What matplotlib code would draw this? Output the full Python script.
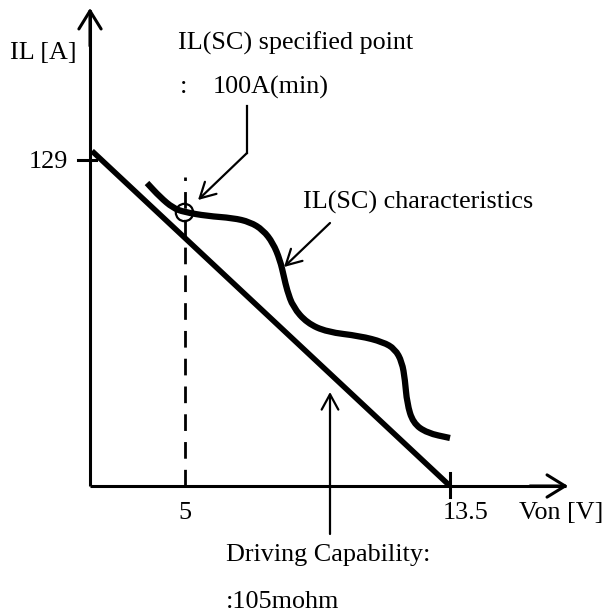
import matplotlib
matplotlib.use("Agg")
import matplotlib.pyplot as plt
from matplotlib.path import Path
from matplotlib.patches import PathPatch

plt.rcParams['font.family'] = ['Liberation Serif', 'DejaVu Serif']

# diagram units: origin at the axis crossing, schematic (not to scale)
# IL(SC) characteristic curve
curve_x = [57, 70, 83, 94, 117, 143, 160, 173, 183, 190, 194, 197, 203, 217,
           237, 270, 293, 305, 312, 315, 317, 323, 337, 360]
curve_y = [303, 289, 278, 274, 270, 268, 264, 256, 243, 226, 209, 196, 179, 163,
           154, 150, 144, 137, 124, 106, 83, 63, 53, 48]

# driving capability line (129 A at 0 V -> 0 A at 13.5 V)
drive_x = [2, 360]
drive_y = [335, 0]

# specified point
spec_x = 94
spec_y = 274

x_tick_pos = [95, 360]
x_tick_labels = ['5', '13.5']
y_tick_pos = [326]
y_tick_labels = ['129']

fig = plt.figure(figsize=(6.09, 6.15), dpi=100)
ax = fig.add_axes([0, 0, 1, 1])
ax.set_xlim(-90, 519)
ax.set_ylim(-129, 486)

# axes with open arrow heads
ax.plot([0, 476], [0, 0], color='black', lw=2.2, solid_capstyle='butt')
ax.plot([0, 0], [0, 476], color='black', lw=2.2, solid_capstyle='butt')
head = dict(arrowstyle='->,head_length=0.65,head_width=0.4', lw=2.2,
            color='black', mutation_scale=20, shrinkA=0, shrinkB=0)
ax.annotate('', xy=(478, 0), xytext=(440, 0), arrowprops=head)
ax.annotate('', xy=(0, 478), xytext=(0, 440), arrowprops=head)

# ticks
for xt in x_tick_pos[1:]:
    ax.plot([xt, xt], [-11, 13], color='black', lw=2.2)
for yt in y_tick_pos:
    ax.plot([-12, 6], [yt, yt], color='black', lw=2.2)

# dashed line at 5 V
ax.plot([x_tick_pos[0], x_tick_pos[0]], [0, 309], color='black', lw=2,
        dashes=(6, 4))

# driving capability line
ax.plot(drive_x, drive_y, color='black', lw=4, solid_capstyle='butt')

# IL(SC) curve as a smooth quadratic bezier path through the read points
pts = list(zip(curve_x, curve_y))
verts = [pts[0], ((pts[0][0] + pts[1][0]) / 2, (pts[0][1] + pts[1][1]) / 2)]
codes = [Path.MOVETO, Path.LINETO]
for i in range(1, len(pts) - 1):
    mid = ((pts[i][0] + pts[i + 1][0]) / 2, (pts[i][1] + pts[i + 1][1]) / 2)
    verts += [pts[i], mid]
    codes += [Path.CURVE3, Path.CURVE3]
verts.append(pts[-1])
codes.append(Path.LINETO)
ax.add_patch(PathPatch(Path(verts, codes), fill=False, lw=4.5,
                       edgecolor='black', capstyle='butt', joinstyle='round'))

ax.plot(spec_x, spec_y, 'o', ms=12.5, mfc='none', mec='black', mew=1.6)

# annotation arrows
arr = dict(arrowstyle='->,head_length=0.55,head_width=0.3', lw=1.6,
           color='black', mutation_scale=20, shrinkA=0, shrinkB=0)
ax.plot([157, 157], [380, 333], color='black', lw=1.6)
ax.annotate('', xy=(108, 286), xytext=(157, 333), arrowprops=arr)
ax.annotate('', xy=(194, 219), xytext=(240, 263), arrowprops=arr)
ax.annotate('', xy=(240, 94), xytext=(240, -48), arrowprops=arr)

fs = 18.8
ax.text(-80, 433, 'IL [A]', fontsize=fs, ha='left', va='center')
ax.text(88, 443, 'IL(SC) specified point', fontsize=fs, ha='left', va='center')
ax.text(90, 399, ':', fontsize=fs, ha='left', va='center')
ax.text(123, 399, '100A(min)', fontsize=fs, ha='left', va='center')
ax.text(213, 284, 'IL(SC) characteristics', fontsize=fs, ha='left', va='center')
ax.text(-22, y_tick_pos[0] - 2, y_tick_labels[0], fontsize=fs, ha='right', va='center')
ax.text(x_tick_pos[0], -27, x_tick_labels[0], fontsize=fs, ha='center', va='center')
ax.text(x_tick_pos[1] + 16, -27, x_tick_labels[1], fontsize=fs, ha='center', va='center')
ax.text(429, -27, 'Von [V]', fontsize=fs, ha='left', va='center')
ax.text(136, -69, 'Driving Capability:', fontsize=fs, ha='left', va='center')
ax.text(136, -116, ':105mohm', fontsize=fs, ha='left', va='center')

ax.axis('off')
fig.savefig('out.png', dpi=100)
